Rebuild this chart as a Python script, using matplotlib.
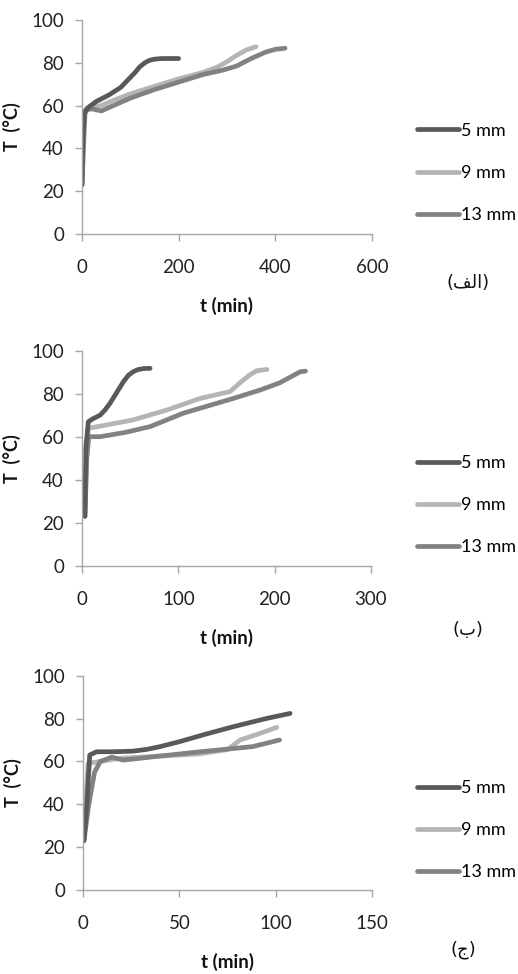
import matplotlib
matplotlib.use("Agg")
import matplotlib.pyplot as plt

plt.rcParams['font.family'] = ['Lato', 'DejaVu Sans']

labels = ["5 mm", "9 mm", "13 mm"]
colors = ["#595959", "#b5b5b5", "#828282"]

# Panel (a)
a_t5 = [0, 2, 5, 15, 30, 56, 80, 98, 110, 119, 130, 140, 150, 165, 180, 200]
a_T5 = [23, 45, 57, 59.5, 62, 65, 68.5, 72.7, 75.5, 78, 80, 81.2, 81.7, 82, 82, 82]
a_t9 = [0, 2, 5, 10, 20, 40, 60, 100, 150, 200, 250, 280, 300, 320, 340, 360]
a_T9 = [23, 45, 57, 59, 59.5, 60, 62, 65.5, 69, 72.5, 75.5, 78, 80.5, 83.5, 86, 87.5]
a_t13 = [0, 3, 6, 10, 20, 40, 60, 100, 150, 200, 250, 290, 320, 350, 380, 400, 420]
a_T13 = [23, 40, 56, 58, 58.5, 57.5, 59.5, 63.5, 67.5, 71, 74.5, 76.5, 78.5, 82, 85, 86.3, 86.8]

# Panel (b)
b_t5 = [3, 4, 6.6, 12, 18.7, 24, 29, 36, 43, 48, 53, 58, 64, 70.7]
b_T5 = [23, 55, 67, 68.5, 70, 72.5, 75.5, 80.5, 85.6, 88.5, 90.2, 91.2, 91.7, 91.8]
b_t9 = [3, 5, 6.6, 20, 53, 88, 122.6, 153.8, 160, 167.6, 175, 181.5, 192]
b_T9 = [23, 55, 63.9, 65, 67.8, 72.4, 77.8, 81, 83.5, 86.4, 89, 90.7, 91.3]
b_t13 = [3, 5, 7, 18.7, 45, 70.7, 105, 157, 184.8, 205, 226.5, 232]
b_T13 = [23, 50, 60, 60, 62, 64.7, 70.9, 77.8, 81.7, 85, 90.2, 90.5]

# Panel (c)
c_t5 = [0.5, 2, 3.5, 7, 15, 26, 33, 40, 50, 64, 78, 95, 107.5]
c_T5 = [23, 40, 63, 64.5, 64.5, 64.8, 65.6, 66.9, 69.2, 72.8, 76.2, 80, 82.4]
c_t9 = [0, 1.5, 2.6, 8.7, 20, 40, 60, 75, 81.5, 90, 100.6]
c_T9 = [23, 42, 59, 60, 61.5, 62.5, 63.5, 65.5, 70, 72.5, 75.9]
c_t13 = [0.5, 3, 6, 9, 15, 20.8, 40, 60.7, 88, 102]
c_T13 = [23, 40, 55, 60, 62, 60.6, 62.5, 64.5, 66.9, 70]

panels = [
    dict(t=[a_t5, a_t9, a_t13], T=[a_T5, a_T9, a_T13], xmax=600, xstep=200,
         rect=[82/518, 1-234/974, 290/518, 214/974], legy=1-173/974,
         tag="(\uFED2\uFEDF\uFE8D)", tagxy=(468/518, 1-283/974)),
    dict(t=[b_t5, b_t9, b_t13], T=[b_T5, b_T9, b_T13], xmax=300, xstep=100,
         rect=[82/518, 1-565.7/974, 289/518, 215/974], legy=1-505/974,
         tag="(\uFE8F)", tagxy=(468/518, 1-630/974)),
    dict(t=[c_t5, c_t9, c_t13], T=[c_T5, c_T9, c_T13], xmax=150, xstep=50,
         rect=[83/518, 1-890/974, 289/518, 214.3/974], legy=1-830/974,
         tag="(\uFE9D)", tagxy=(463/518, 1-950/974)),
]

fig = plt.figure(figsize=(5.18, 9.74), dpi=100)
spine_c = "#a6a6a6"
for p in panels:
    ax = fig.add_axes(p["rect"])
    order = [1, 2, 0]
    handles = {}
    for i in order:
        h, = ax.plot(p["t"][i], p["T"][i], color=colors[i], lw=3.4,
                     solid_capstyle='round', solid_joinstyle='round', label=labels[i])
        handles[i] = h
    ax.set_xlim(0, p["xmax"])
    ax.set_ylim(0, 100)
    ax.set_xticks(list(range(0, p["xmax"] + 1, p["xstep"])))
    ax.set_yticks(range(0, 101, 20))
    for s in ["top", "right"]:
        ax.spines[s].set_visible(False)
    for s in ["left", "bottom"]:
        ax.spines[s].set_color(spine_c)
        ax.spines[s].set_linewidth(1.0)
    ax.tick_params(axis='both', colors=spine_c, length=5, width=1.0, labelsize=13.5,
                   labelcolor="#222222")
    ax.tick_params(axis='x', pad=13)
    ax.tick_params(axis='y', pad=8)
    ax.set_xlabel("t (min)", fontsize=13.5, fontweight='bold', labelpad=15, color="#111111")
    ax.set_ylabel("T  (°C)", fontsize=13, fontweight='bold', labelpad=7, color="#111111")
    ax.legend([handles[0], handles[1], handles[2]], labels, loc='center left',
              bbox_to_anchor=(417/518, p["legy"]), bbox_transform=fig.transFigure,
              frameon=False, fontsize=13, handlelength=2.3, handletextpad=0.12,
              labelspacing=1.45, borderpad=0, borderaxespad=0)
    fig.text(p["tagxy"][0], p["tagxy"][1], p["tag"], family=['DejaVu Sans'],
             fontsize=13, ha='center', va='center', color="#111111")

fig.savefig("out.png", dpi=100)
